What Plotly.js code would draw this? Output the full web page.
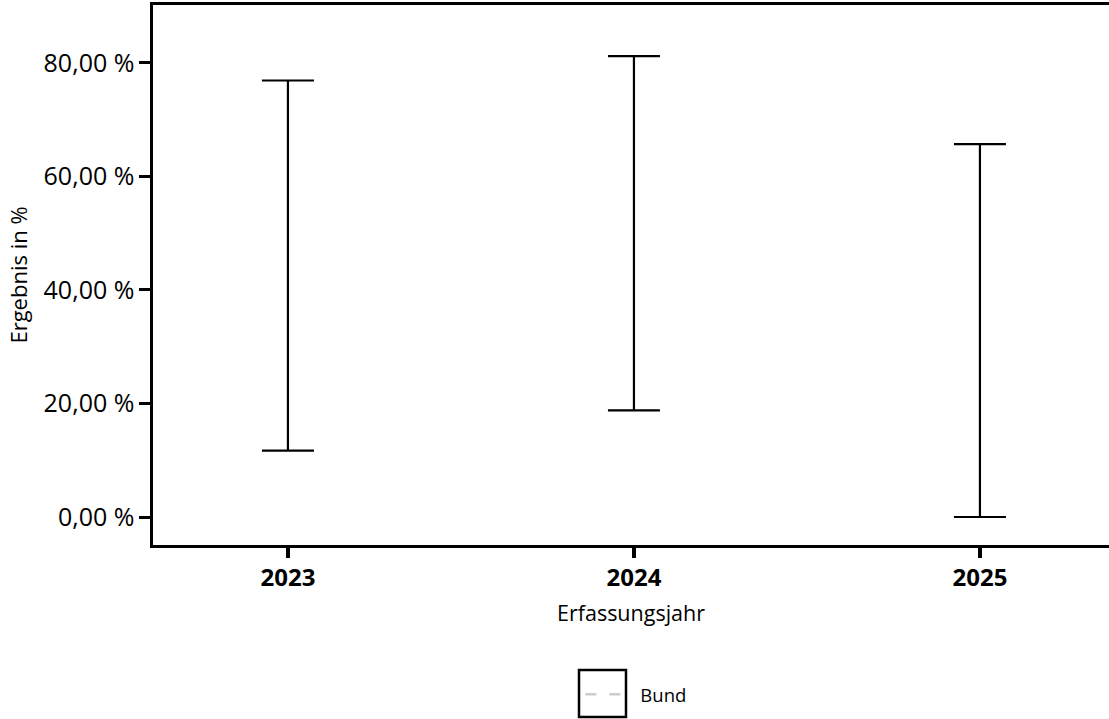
<!DOCTYPE html>
<html>
<head>
<meta charset="utf-8">
<script src="https://cdn.plot.ly/plotly-3.0.1.min.js"></script>
<style>html,body{margin:0;padding:0;background:#fff;overflow:hidden;}</style>
</head>
<body>
<div id="chart" style="width:1109px;height:719px;"></div>
<script>
// Data
const years = ["2023", "2024", "2025"];
const lower = [11.7, 18.8, 0.0];
const upper = [76.9, 81.2, 65.7];
const bund = [null, null, null];
const yTickVals = [0, 20, 40, 60, 80];
const yTickText = ["0,00 %", "20,00 %", "40,00 %", "60,00 %", "80,00 %"];

const FONT = "Open Sans, Lato, sans-serif";

const rangeTrace = {
  type: "scatter",
  mode: "markers",
  x: years,
  y: upper,
  marker: {size: 0.1, color: "rgba(0,0,0,0)"},
  error_y: {
    type: "data",
    symmetric: false,
    array: upper.map(() => 0),
    arrayminus: upper.map((u, i) => u - lower[i]),
    color: "#000",
    thickness: 2.2,
    width: 26
  },
  showlegend: false,
  hoverinfo: "skip"
};

const bundTrace = {
  type: "scatter",
  mode: "lines",
  name: "Bund",
  x: years,
  y: bund,
  line: {color: "#cccccc", dash: "11px,13px,11px,80px", width: 2.5},
  showlegend: true
};

const layout = {
  width: 1109,
  height: 719,
  margin: {l: 153, r: 0, t: 5, b: 174},
  paper_bgcolor: "#fff",
  plot_bgcolor: "#fff",
  font: {family: FONT, color: "#000"},
  xaxis: {
    type: "category",
    range: [-0.39, 2.373],
    showline: true,
    linecolor: "#000",
    linewidth: 2.6,
    mirror: true,
    ticks: "outside",
    ticklen: 10,
    tickwidth: 4,
    tickcolor: "#000",
    showgrid: false,
    zeroline: false,
    tickfont: {family: FONT, size: 24, weight: "bold"},
    title: {text: "Erfassungsjahr", font: {family: FONT, size: 21.5}, standoff: 14}
  },
  yaxis: {
    range: [-4.93, 90.2],
    tickvals: yTickVals,
    ticktext: yTickText,
    showline: true,
    linecolor: "#000",
    linewidth: 2.6,
    ticks: "outside",
    ticklen: 11,
    tickwidth: 3,
    tickcolor: "#000",
    showgrid: false,
    zeroline: false,
    tickfont: {family: FONT, size: 25},
    title: {text: "Ergebnis in %", font: {family: FONT, size: 22}, standoff: 10}
  },
  legend: {
    orientation: "h",
    x: 0.447,
    xanchor: "left",
    y: -0.2775,
    yanchor: "middle",
    font: {family: FONT, size: 18.5},
    itemwidth: 50,
    bgcolor: "rgba(0,0,0,0)"
  },
  shapes: [{
    type: "rect",
    xref: "paper", yref: "paper",
    x0: (579 - 153) / 956, x1: (626 - 153) / 956,
    y0: -(670 - 545) / 540, y1: -(717 - 545) / 540,
    line: {color: "#000", width: 2.5},
    fillcolor: "rgba(0,0,0,0)"
  }],
  showlegend: true
};

Plotly.newPlot("chart", [rangeTrace, bundTrace], layout, {displayModeBar: false, staticPlot: true});
</script>
</body>
</html>
